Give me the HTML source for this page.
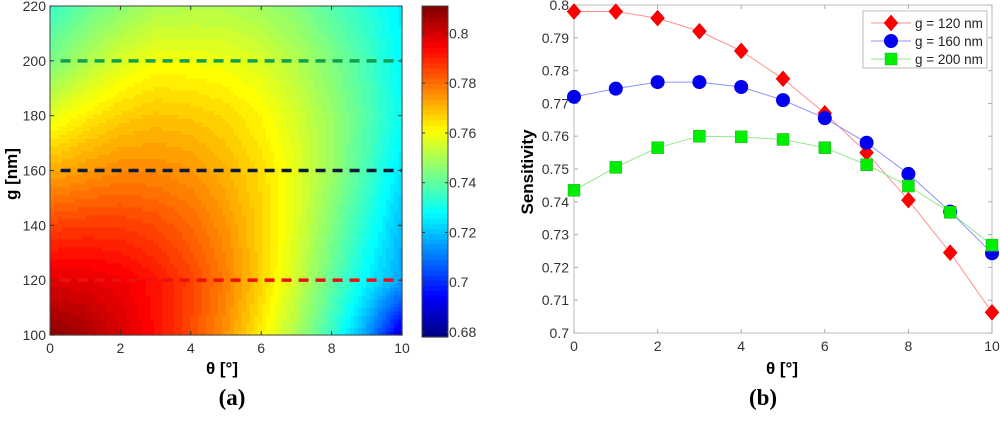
<!DOCTYPE html>
<html><head><meta charset="utf-8"><style>
body{margin:0;background:#fff;width:1000px;height:417px;overflow:hidden;font-family:"Liberation Sans",sans-serif}
svg text{font-family:"Liberation Sans",sans-serif}
</style></head><body>
<svg id="s" width="1000" height="417">
<g id="left"></g>
<g id="right"></g>
<text x="232" y="405" text-anchor="middle" font-weight="bold" font-size="23" style="font-family:'Liberation Serif',serif">(a)</text>
<text x="763" y="405" text-anchor="middle" font-weight="bold" font-size="23" style="font-family:'Liberation Serif',serif">(b)</text>
</svg>
<script>
const thetas=[0,1,2,3,4,5,6,7,8,9,10];
const gRows=[100,120,140,160,180,200,220];
const grid100=[0.810,0.806,0.800,0.793,0.785,0.775,0.763,0.750,0.735,0.715,0.688];
const grid120=[0.798,0.798,0.796,0.792,0.786,0.778,0.767,0.755,0.741,0.727,0.716];
const grid140=[0.786,0.787,0.787,0.785,0.781,0.775,0.767,0.757,0.745,0.732,0.719];
const grid160=[0.772,0.7745,0.7765,0.7765,0.775,0.771,0.7655,0.758,0.7485,0.737,0.7245];
const grid180=[0.758,0.763,0.767,0.769,0.768,0.766,0.762,0.756,0.748,0.739,0.729];
const grid200=[0.7435,0.7505,0.7565,0.760,0.7598,0.759,0.7565,0.7515,0.7448,0.737,0.727];
const grid220=[0.735,0.741,0.746,0.750,0.751,0.751,0.749,0.745,0.739,0.733,0.726];
const s120=[0.798,0.798,0.796,0.792,0.786,0.7775,0.767,0.755,0.7405,0.7245,0.7063];
const s160=[0.772,0.7745,0.7765,0.7765,0.775,0.771,0.7655,0.758,0.7485,0.737,0.7243];
const s200=[0.7435,0.7505,0.7565,0.760,0.7598,0.759,0.7565,0.7513,0.7448,0.7368,0.7268];
const heatXTicks=[0,2,4,6,8,10];
const heatYTicks=[100,120,140,160,180,200,220];
const cbTicks=[0.68,0.7,0.72,0.74,0.76,0.78,0.8];
const lineYTicks=[0.7,0.71,0.72,0.73,0.74,0.75,0.76,0.77,0.78,0.79,0.8];
const NS="http://www.w3.org/2000/svg";
function el(p,t,a,txt){const e=document.createElementNS(NS,t);for(const k in a)e.setAttribute(k,a[k]);if(txt!==undefined)e.textContent=txt;p.appendChild(e);return e;}
function jet(v){v=Math.max(0,Math.min(1,v));const r=Math.min(1,Math.max(0,1.5-Math.abs(4*v-3))),g=Math.min(1,Math.max(0,1.5-Math.abs(4*v-2))),b=Math.min(1,Math.max(0,1.5-Math.abs(4*v-1)));return `rgb(${Math.round(r*255)},${Math.round(g*255)},${Math.round(b*255)})`;}
const L=document.getElementById('left'),R=document.getElementById('right');
const hx0=50,hx1=402,hy0=6,hy1=335,cmin=0.678,cmax=0.811;
const hx=t=>hx0+(t-0)/10*(hx1-hx0), hy=g=>hy1-(g-100)/120*(hy1-hy0);
const rows=[grid100,grid120,grid140,grid160,grid180,grid200,grid220];
function field(t,g){let i=Math.min(9,Math.floor(t)),j=Math.min(5,Math.floor((g-100)/20));const ft=t-i,fg=(g-100)/20-j;
const a=rows[j][i],b=rows[j][i+1],c=rows[j+1][i],d=rows[j+1][i+1];return (a*(1-ft)+b*ft)*(1-fg)+(c*(1-ft)+d*ft)*fg;}
const hm=el(L,'g',{});


const NX=88,NY=82;
for(let yi=0;yi<NY;yi++)for(let xi=0;xi<NX;xi++){
 const t=(xi+0.5)/NX*10,g=100+(yi+0.5)/NY*120;
 let v=field(t,g);v=Math.round((v-cmin)/(cmax-cmin)*64)/64;
 const x=hx0+xi*(hx1-hx0)/NX,y=hy1-(yi+1)*(hy1-hy0)/NY;
 el(hm,'rect',{x:x,y:y,width:(hx1-hx0)/NX+0.6,height:(hy1-hy0)/NY+0.6,fill:jet(v)});
}
const dashes=[[200,'#10a050','dashed-line-200'],[160,'#0c1a38','dashed-line-160'],[120,'#ee1010','dashed-line-120']];
dashes.forEach(d=>{const ln=el(L,'line',{x1:hx(0.3),x2:hx(10),y1:hy(d[0]),y2:hy(d[0]),stroke:d[1],'stroke-width':3.5,'stroke-dasharray':'10 7'});

});
el(L,'rect',{x:hx0,y:hy0,width:hx1-hx0,height:hy1-hy0,fill:'none',stroke:'#444','stroke-width':1});
heatXTicks.forEach(t=>{el(L,'line',{x1:hx(t),x2:hx(t),y1:hy1,y2:hy1-4,stroke:'#333'});el(L,'line',{x1:hx(t),x2:hx(t),y1:hy0,y2:hy0+4,stroke:'#333'});
 const tx=el(L,'text',{x:hx(t),y:353,'text-anchor':'middle','font-size':14,fill:'#333'},t);
 
 });
heatYTicks.forEach(g=>{el(L,'line',{x1:hx0,x2:hx0+4,y1:hy(g),y2:hy(g),stroke:'#333'});el(L,'line',{x1:hx1,x2:hx1-4,y1:hy(g),y2:hy(g),stroke:'#333'});
 const tx=el(L,'text',{x:46,y:hy(g)+5,'text-anchor':'end','font-size':14,fill:'#333'},g);
 
 });
let t1=el(L,'text',{x:222,y:374,'text-anchor':'middle','font-size':17,'font-weight':'bold'},'θ [°]');

t1=el(L,'text',{x:0,y:0,'text-anchor':'middle','font-size':17,'font-weight':'bold',transform:'translate(17,174) rotate(-90)'},'g [nm]');

const cx0=422,cx1=448,cy0=6,cy1=337;const cy=v=>cy1-(v-cmin)/(cmax-cmin)*(cy1-cy0);
const cb=el(L,'g',{});


for(let i=0;i<64;i++){const y=cy1-(i+1)*(cy1-cy0)/64;el(cb,'rect',{x:cx0,y:y,width:cx1-cx0,height:(cy1-cy0)/64+0.6,fill:jet((i+0.5)/64)});}
el(cb,'rect',{x:cx0,y:cy0,width:cx1-cx0,height:cy1-cy0,fill:'none',stroke:'#444'});
cbTicks.forEach(v=>{el(cb,'line',{x1:cx1,x2:cx1-3,y1:cy(v),y2:cy(v),stroke:'#333'});el(cb,'line',{x1:cx0,x2:cx0+3,y1:cy(v),y2:cy(v),stroke:'#333'});
 const tx=el(cb,'text',{x:449,y:cy(v)+5,'font-size':14,fill:'#333'},String(v));
 
 });
const px0=574,px1=992,py0=5,py1=333;
const px=t=>px0+t/10*(px1-px0), py=v=>py1-(v-0.7)/0.1*(py1-py0);
el(R,'rect',{x:px0,y:py0,width:px1-px0,height:py1-py0,fill:'#fff',stroke:'#bbb'});
lineYTicks.forEach(v=>{el(R,'line',{x1:px0,x2:px0+4,y1:py(v),y2:py(v),stroke:'#aaa'});el(R,'line',{x1:px1,x2:px1-4,y1:py(v),y2:py(v),stroke:'#aaa'});
 const tx=el(R,'text',{x:569,y:py(v)+5,'text-anchor':'end','font-size':14,fill:'#333'},String(v));
 
 });
heatXTicks.forEach(t=>{el(R,'line',{x1:px(t),x2:px(t),y1:py1,y2:py1-4,stroke:'#aaa'});el(R,'line',{x1:px(t),x2:px(t),y1:py0,y2:py0+4,stroke:'#aaa'});
 const tx=el(R,'text',{x:px(t),y:351,'text-anchor':'middle','font-size':14,fill:'#333'},t);
 
 });
t1=el(R,'text',{x:782,y:374,'text-anchor':'middle','font-size':17,'font-weight':'bold'},'θ [°]');

t1=el(R,'text',{x:0,y:0,'text-anchor':'middle','font-size':17,'font-weight':'bold',transform:'translate(533,172) rotate(-90)'},'Sensitivity');

function marker(p,kind,x,y,col){if(kind==='d')return el(p,'polygon',{points:`${x},${y-8} ${x+7},${y} ${x},${y+8} ${x-7},${y}`,fill:col,stroke:'#c00','stroke-width':0.5});
 if(kind==='o')return el(p,'circle',{cx:x,cy:y,r:7,fill:col});
 return el(p,'rect',{x:x-6,y:y-6,width:12,height:12,fill:col,stroke:'#3a3','stroke-width':0.5});}
const series=[[s120,'#ff9090','#ff0000','d','series-120'],[s160,'#9090ff','#0000ee','o','series-160'],[s200,'#90e890','#00ee00','s','series-200']];
series.forEach(sr=>{const g=el(R,'g',{});
 
 
 el(g,'polyline',{points:sr[0].map((v,i)=>px(thetas[i])+','+py(v)).join(' '),fill:'none',stroke:sr[1],'stroke-width':1});
 sr[0].forEach((v,i)=>{const m=marker(g,sr[3],px(thetas[i]),py(v),sr[2]);
  
  });});
const lg=el(R,'g',{});


el(lg,'rect',{x:863,y:11,width:124,height:57,fill:'#fff',stroke:'#bbb'});
const labels=['g = 120 nm','g = 160 nm','g = 200 nm'];
series.forEach((sr,i)=>{const y=23+i*18;el(lg,'line',{x1:871,x2:911,y1:y,y2:y,stroke:sr[1]});marker(lg,sr[3],891,y,sr[2]);
 const tx=el(lg,'text',{x:915,y:y+5,'font-size':13.5,fill:'#222'},labels[i]);
 
 });
</script>
</body></html>
